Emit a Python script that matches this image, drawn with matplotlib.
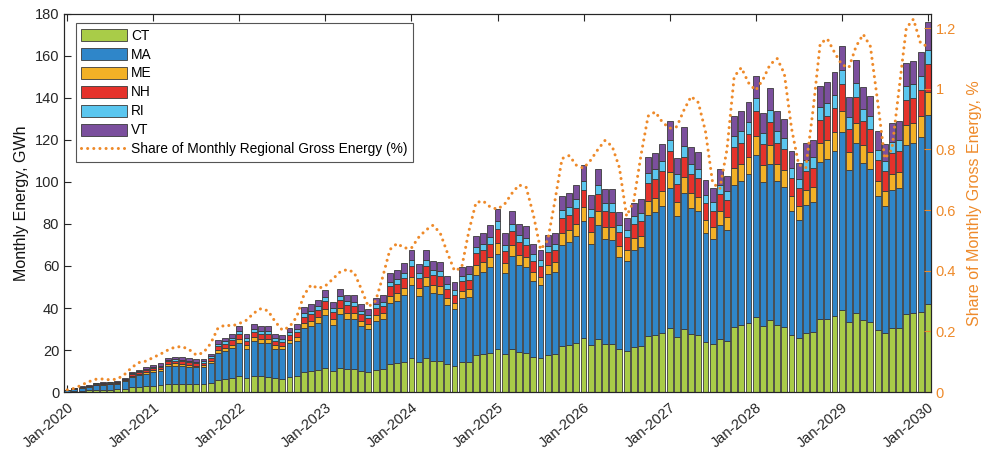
import matplotlib
matplotlib.use("Agg")
import matplotlib.pyplot as plt
import numpy as np

plt.rcParams['font.family'] = ['Liberation Sans', 'DejaVu Sans']

# Monthly energy by state, GWh (Jan-2020 .. Jan-2030)
ct = [0.24, 0.47, 0.66, 0.78, 1.04, 1.09, 1.16, 1.23, 1.61, 2.28, 2.54, 2.77,
      3.0, 3.2, 3.9, 4.0, 3.9, 3.8, 3.7, 3.7, 4.3, 5.8, 6.1, 6.6,
      7.4, 6.5, 7.6, 7.4, 7.3, 6.5, 6.4, 7.3, 7.6, 9.6, 9.9, 10.4,
      11.6, 10.1, 11.6, 11.0, 10.9, 9.9, 9.4, 10.6, 10.9, 13.4, 13.7, 14.5,
      16.0, 14.5, 16.0, 14.8, 14.7, 13.1, 12.4, 14.1, 14.3, 17.6, 18.0, 18.8,
      20.7, 17.9, 20.4, 19.0, 18.7, 16.7, 16.0, 17.7, 18.0, 22.1, 22.5, 23.4,
      25.7, 22.2, 25.1, 22.9, 22.9, 20.3, 19.7, 21.3, 21.7, 26.5, 27.0, 28.0,
      30.6, 26.4, 29.9, 27.6, 27.1, 23.9, 23.0, 25.1, 24.4, 31.1, 31.7, 32.7,
      35.6, 31.5, 34.3, 31.7, 30.8, 27.2, 25.9, 28.1, 28.5, 34.6, 35.0, 36.1,
      39.1, 33.3, 37.4, 34.4, 33.4, 29.4, 28.0, 30.3, 30.6, 37.1, 37.4, 38.3,
      41.7]
ma = [0.52, 1.03, 1.44, 1.70, 2.27, 2.37, 2.52, 2.68, 3.50, 4.94, 5.51, 6.03,
      6.6, 7.0, 8.4, 8.6, 8.5, 8.2, 8.0, 8.2, 9.4, 12.7, 13.3, 14.3,
      16.1, 14.2, 16.6, 16.1, 16.2, 14.2, 13.9, 15.8, 16.6, 20.8, 21.5, 22.6,
      25.1, 22.0, 25.4, 23.9, 23.7, 21.5, 20.4, 23.2, 23.7, 29.1, 29.8, 31.5,
      34.8, 31.4, 34.7, 32.2, 31.9, 28.5, 26.9, 30.6, 31.0, 38.3, 39.1, 40.9,
      45.0, 38.9, 44.4, 41.3, 40.7, 36.3, 34.8, 38.5, 39.1, 48.0, 48.9, 50.9,
      55.8, 48.2, 54.6, 49.9, 49.7, 44.1, 42.7, 46.4, 47.2, 57.7, 58.7, 60.8,
      66.4, 57.4, 64.9, 60.0, 58.9, 52.0, 50.0, 54.6, 52.9, 67.6, 68.8, 71.1,
      77.4, 68.4, 74.5, 68.8, 67.0, 59.0, 56.2, 61.1, 61.9, 75.1, 76.1, 78.5,
      84.9, 72.5, 81.4, 74.7, 72.6, 63.9, 60.8, 65.9, 66.5, 80.6, 81.2, 83.3,
      90.3]
me = [0.06, 0.12, 0.17, 0.20, 0.26, 0.28, 0.29, 0.31, 0.41, 0.58, 0.64, 0.70,
      0.8, 0.8, 1.0, 1.0, 1.0, 1.0, 0.9, 0.9, 1.1, 1.5, 1.6, 1.7,
      1.9, 1.7, 1.9, 1.9, 1.9, 1.7, 1.6, 1.8, 1.9, 2.4, 2.5, 2.6,
      2.9, 2.6, 2.9, 2.8, 2.8, 2.5, 2.4, 2.7, 2.8, 3.4, 3.5, 3.7,
      4.1, 3.7, 4.0, 3.8, 3.7, 3.3, 3.1, 3.6, 3.6, 4.5, 4.6, 4.8,
      5.2, 4.5, 5.2, 4.8, 4.7, 4.2, 4.1, 4.5, 4.6, 5.6, 5.7, 5.9,
      6.5, 5.6, 6.4, 5.8, 5.8, 5.1, 5.0, 5.4, 5.5, 6.7, 6.8, 7.1,
      7.7, 6.7, 7.6, 7.0, 6.9, 6.1, 5.8, 6.4, 6.2, 7.9, 8.0, 8.3,
      9.0, 8.0, 8.7, 8.0, 7.8, 6.9, 6.5, 7.1, 7.2, 8.8, 8.9, 9.1,
      9.9, 8.4, 9.5, 8.7, 8.5, 7.4, 7.1, 7.7, 7.8, 9.4, 9.5, 9.7,
      10.7]
nh = [0.08, 0.15, 0.22, 0.25, 0.34, 0.35, 0.38, 0.40, 0.52, 0.74, 0.82, 0.90,
      1.0, 1.0, 1.3, 1.3, 1.3, 1.2, 1.2, 1.2, 1.4, 1.9, 2.0, 2.1,
      2.4, 2.1, 2.5, 2.4, 2.4, 2.1, 2.1, 2.4, 2.5, 3.1, 3.2, 3.4,
      3.8, 3.3, 3.8, 3.6, 3.5, 3.2, 3.0, 3.4, 3.5, 4.4, 4.5, 4.7,
      5.2, 4.7, 5.2, 4.8, 4.8, 4.3, 4.0, 4.6, 4.6, 5.7, 5.8, 6.1,
      6.7, 5.8, 6.6, 6.2, 6.1, 5.4, 5.2, 5.8, 5.8, 7.2, 7.3, 7.6,
      8.3, 7.2, 8.2, 7.5, 7.4, 6.6, 6.4, 6.9, 7.1, 8.6, 8.8, 9.1,
      9.9, 8.6, 9.7, 9.0, 8.8, 7.8, 7.5, 8.2, 7.9, 10.1, 10.3, 10.6,
      11.6, 10.2, 11.1, 10.3, 10.0, 8.8, 8.4, 9.1, 9.2, 11.2, 11.4, 11.7,
      12.7, 10.8, 12.2, 11.2, 10.9, 9.6, 9.1, 9.9, 9.9, 12.1, 12.1, 12.5,
      13.3]
ri = [0.04, 0.08, 0.11, 0.14, 0.18, 0.19, 0.20, 0.21, 0.28, 0.39, 0.44, 0.48,
      0.5, 0.6, 0.7, 0.7, 0.7, 0.7, 0.6, 0.7, 0.8, 1.0, 1.1, 1.1,
      1.3, 1.1, 1.3, 1.3, 1.3, 1.1, 1.1, 1.3, 1.3, 1.7, 1.7, 1.8,
      2.0, 1.8, 2.0, 1.9, 1.9, 1.7, 1.6, 1.8, 1.9, 2.3, 2.4, 2.5,
      2.8, 2.5, 2.8, 2.6, 2.5, 2.3, 2.1, 2.4, 2.5, 3.1, 3.1, 3.3,
      3.6, 3.1, 3.5, 3.3, 3.2, 2.9, 2.8, 3.1, 3.1, 3.8, 3.9, 4.1,
      4.4, 3.8, 4.3, 4.0, 4.0, 3.5, 3.4, 3.7, 3.8, 4.6, 4.7, 4.8,
      5.3, 4.6, 5.2, 4.8, 4.7, 4.1, 4.0, 4.3, 4.2, 5.4, 5.5, 5.7,
      6.2, 5.4, 5.9, 5.5, 5.3, 4.7, 4.5, 4.9, 4.9, 6.0, 6.1, 6.2,
      6.8, 5.8, 6.5, 5.9, 5.8, 5.1, 4.8, 5.2, 5.3, 6.4, 6.5, 6.6,
      7.0]
vt = [0.07, 0.14, 0.20, 0.23, 0.31, 0.32, 0.34, 0.36, 0.48, 0.67, 0.75, 0.82,
      0.9, 1.0, 1.1, 1.2, 1.2, 1.1, 1.1, 1.1, 1.3, 1.7, 1.8, 1.9,
      2.2, 1.9, 2.3, 2.2, 2.2, 1.9, 1.9, 2.1, 2.3, 2.8, 2.9, 3.1,
      3.4, 3.0, 3.4, 3.2, 3.2, 2.9, 2.8, 3.1, 3.2, 4.0, 4.0, 4.3,
      4.7, 4.3, 4.7, 4.4, 4.3, 3.9, 3.7, 4.2, 4.2, 5.2, 5.3, 5.6,
      6.1, 5.3, 6.0, 5.6, 5.5, 4.9, 4.7, 5.2, 5.3, 6.5, 6.6, 6.9,
      7.6, 6.6, 7.4, 6.8, 6.8, 6.0, 5.8, 6.3, 6.4, 7.8, 8.0, 8.3,
      9.0, 7.8, 8.8, 8.2, 8.0, 7.1, 6.8, 7.4, 7.2, 9.2, 9.4, 9.7,
      10.5, 9.3, 10.1, 9.4, 9.1, 8.0, 7.6, 8.3, 8.4, 10.2, 10.3, 10.7,
      11.5, 9.8, 11.1, 10.2, 9.9, 8.7, 8.3, 9.0, 9.0, 11.0, 11.0, 11.3,
      13.0]

# Share of monthly regional gross energy, %
share = [0.007, 0.012, 0.023, 0.034, 0.042, 0.043, 0.040, 0.043, 0.058, 0.081, 0.097, 0.102,
         0.114, 0.125, 0.138, 0.148, 0.150, 0.140, 0.122, 0.130, 0.160, 0.210, 0.221, 0.218,
         0.226, 0.237, 0.260, 0.275, 0.268, 0.232, 0.204, 0.215, 0.248, 0.320, 0.353, 0.342,
         0.350, 0.372, 0.395, 0.404, 0.395, 0.340, 0.281, 0.300, 0.380, 0.470, 0.490, 0.475,
         0.475, 0.510, 0.534, 0.550, 0.525, 0.460, 0.400, 0.410, 0.530, 0.625, 0.630, 0.610,
         0.603, 0.620, 0.655, 0.683, 0.675, 0.585, 0.470, 0.500, 0.630, 0.770, 0.780, 0.748,
         0.738, 0.765, 0.800, 0.830, 0.810, 0.740, 0.580, 0.630, 0.780, 0.910, 0.924, 0.890,
         0.870, 0.875, 0.930, 0.975, 0.955, 0.860, 0.690, 0.670, 0.800, 1.040, 1.070, 1.020,
         0.995, 1.030, 1.080, 1.100, 1.050, 0.870, 0.750, 0.740, 0.930, 1.150, 1.165, 1.120,
         1.080, 1.070, 1.140, 1.180, 1.140, 0.960, 0.770, 0.800, 1.000, 1.200, 1.230, 1.150,
         1.140]

tick_labels = ["Jan-2020", "Jan-2021", "Jan-2022", "Jan-2023", "Jan-2024", "Jan-2025",
               "Jan-2026", "Jan-2027", "Jan-2028", "Jan-2029", "Jan-2030"]

series = [("CT", ct, "#a9cc48"), ("MA", ma, "#2f86c9"), ("ME", me, "#f3b126"),
          ("NH", nh, "#e5322b"), ("RI", ri, "#5ac6ef"), ("VT", vt, "#7b4f9d")]
line_color = "#ee8a2a"

fig = plt.figure(figsize=(9.97, 4.51), dpi=100)
ax = fig.add_axes([0.0642, 0.1308, 0.8696, 0.8382])

x = np.arange(len(ct))
bottom = np.zeros(len(ct))
handles = []
for name, vals, col in series:
    v = np.array(vals, dtype=float)
    b = ax.bar(x, v, width=0.82, bottom=bottom, color=col, edgecolor="#3a3a3a",
               linewidth=0.6, label=name, zorder=2)
    handles.append(b)
    bottom += v

ax.set_xlim(-0.45, 120.45)
ax.set_ylim(0, 180)
ax.set_yticks(np.arange(0, 181, 20))
ax.set_xticks(np.arange(0, 121, 12))
ax.set_xticklabels(tick_labels, rotation=40, ha="right", rotation_mode="anchor")
ax.tick_params(axis="both", direction="in", length=5, width=0.8, labelsize=10.5,
               colors="#262626", top=True, right=False)
ax.tick_params(axis="x", pad=6)
for s in ax.spines.values():
    s.set_color("#262626")
    s.set_linewidth(0.8)
ax.set_ylabel("Monthly Energy, GWh", fontsize=11.5, color="#111111", labelpad=4)

ax2 = ax.twinx()
ln, = ax2.plot(x, share, color=line_color, linewidth=2.2,
               linestyle=(0, (0.01, 2.0)), dash_capstyle="round",
               label="Share of Monthly Regional Gross Energy (%)", zorder=3)
ax2.set_ylim(0, 1.247)
ax2.set_yticks([0, 0.2, 0.4, 0.6, 0.8, 1.0, 1.2])
ax2.set_yticklabels(["0", "0.2", "0.4", "0.6", "0.8", "1", "1.2"])
ax2.tick_params(axis="y", direction="in", length=5, width=0.8, labelsize=10.5,
                colors=line_color)
for s in ax2.spines.values():
    s.set_color("#262626")
    s.set_linewidth(0.8)
ax2.set_ylabel("Share of Monthly Gross Energy, %", fontsize=11.5, color=line_color,
               labelpad=8)

leg = ax2.legend(handles + [ln], [h.get_label() for h in handles] + [ln.get_label()],
                 loc="upper left", bbox_to_anchor=(0.0138, 0.976), fontsize=9.9,
                 frameon=True, fancybox=False, edgecolor="#555555", framealpha=1,
                 handlelength=3.3, handleheight=0.95, labelspacing=0.36,
                 handletextpad=0.3, borderpad=0.4, borderaxespad=0)
leg.get_frame().set_linewidth(0.8)

fig.savefig("out.png", dpi=100)
